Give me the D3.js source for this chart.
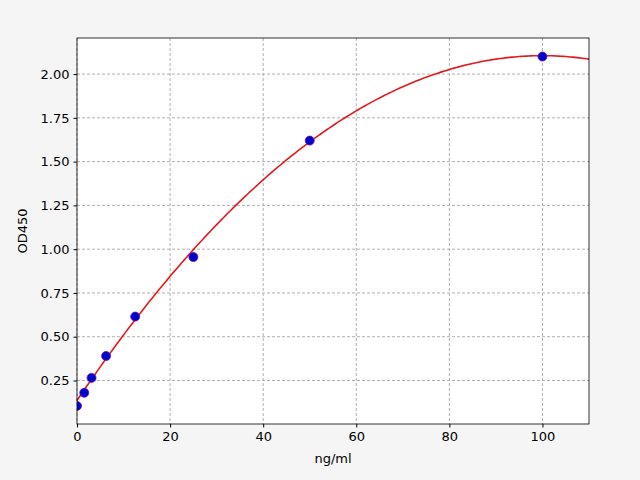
<!DOCTYPE html>
<html lang="en">
<head>
<meta charset="utf-8">
<title>Standard curve</title>
<script src="https://d3js.org/d3.v7.min.js"></script>
<style>
body { margin: 0; background: #f5f5f5; }
text { font-family: "DejaVu Sans", sans-serif; }
</style>
</head>
<body>
<script>
// data
var conc = [0, 1.5625, 3.125, 6.25, 12.5, 25, 50, 100];
var od = [0.105, 0.18, 0.265, 0.39, 0.615, 0.955, 1.62, 2.1];
// fitted curve: y = top - k*(x - peak)^2
var fitTop = [2.105];
var fitPeak = [100];
var fitK = [0.0001969];
var xTicks = [0, 20, 40, 60, 80, 100];
var yTicks = [0.25, 0.5, 0.75, 1.0, 1.25, 1.5, 1.75, 2.0];

var w = 640, h = 480;
var pLeft = 77, pRight = 589, pTop = 38, pBottom = 424;

var svg = d3.select("body").append("svg")
  .attr("width", w).attr("height", h);

var x = d3.scaleLinear().domain([0, 110]).range([pLeft, pRight]);
var y = d3.scaleLinear().domain([0.0016, 2.206]).range([pBottom, pTop]);

svg.append("rect")
  .attr("x", pLeft).attr("y", pTop)
  .attr("width", pRight - pLeft).attr("height", pBottom - pTop)
  .attr("fill", "white");

// grid
svg.selectAll(".gx").data(xTicks).enter().append("line")
  .attr("x1", d => x(d)).attr("x2", d => x(d))
  .attr("y1", pTop).attr("y2", pBottom)
  .attr("stroke", "#b0b0b0").attr("stroke-dasharray", "3,2");
svg.selectAll(".gy").data(yTicks).enter().append("line")
  .attr("y1", d => y(d)).attr("y2", d => y(d))
  .attr("x1", pLeft).attr("x2", pRight)
  .attr("stroke", "#b0b0b0").attr("stroke-dasharray", "3,2");

// curve
var xs = d3.range(0, 110.01, 0.5);
var line = d3.line().x(d => x(d)).y(d => y(fitTop[0] - fitK[0] * (d - fitPeak[0]) * (d - fitPeak[0])));
svg.append("path").datum(xs)
  .attr("d", line).attr("fill", "none")
  .attr("stroke", "#e31a1c").attr("stroke-width", 1.6);

// points
svg.append("clipPath").attr("id", "c").append("rect")
  .attr("x", pLeft).attr("y", pTop).attr("width", pRight - pLeft).attr("height", pBottom - pTop);
svg.append("g").attr("clip-path", "url(#c)")
  .selectAll("circle").data(conc).enter().append("circle")
  .attr("cx", d => x(d)).attr("cy", (d, i) => y(od[i]))
  .attr("r", 4.5).attr("fill", "#0000cc").attr("stroke", "#6a0dad").attr("stroke-width", 0.8);

// axes
var xa = svg.append("g").attr("transform", "translate(0," + pBottom + ")")
  .call(d3.axisBottom(x).tickValues(xTicks).tickSize(3.5).tickPadding(4));
var ya = svg.append("g").attr("transform", "translate(" + pLeft + ",0)")
  .call(d3.axisLeft(y).tickValues(yTicks).tickFormat(d3.format(".2f")).tickSize(3.5).tickPadding(4));
[xa, ya].forEach(function(a) {
  a.select(".domain").remove();
  a.selectAll("text").attr("font-size", 13).attr("fill", "black");
  a.selectAll("line").attr("stroke", "black");
});

svg.append("rect")
  .attr("x", pLeft).attr("y", pTop)
  .attr("width", pRight - pLeft).attr("height", pBottom - pTop)
  .attr("fill", "none").attr("stroke", "black").attr("stroke-width", 0.8);

svg.append("text").attr("x", (pLeft + pRight) / 2).attr("y", 463)
  .attr("text-anchor", "middle").attr("font-size", 13).text("ng/ml");
svg.append("text").attr("transform", "translate(27," + (pTop + pBottom) / 2 + ") rotate(-90)")
  .attr("text-anchor", "middle").attr("font-size", 13).text("OD450");
</script>
</body>
</html>
